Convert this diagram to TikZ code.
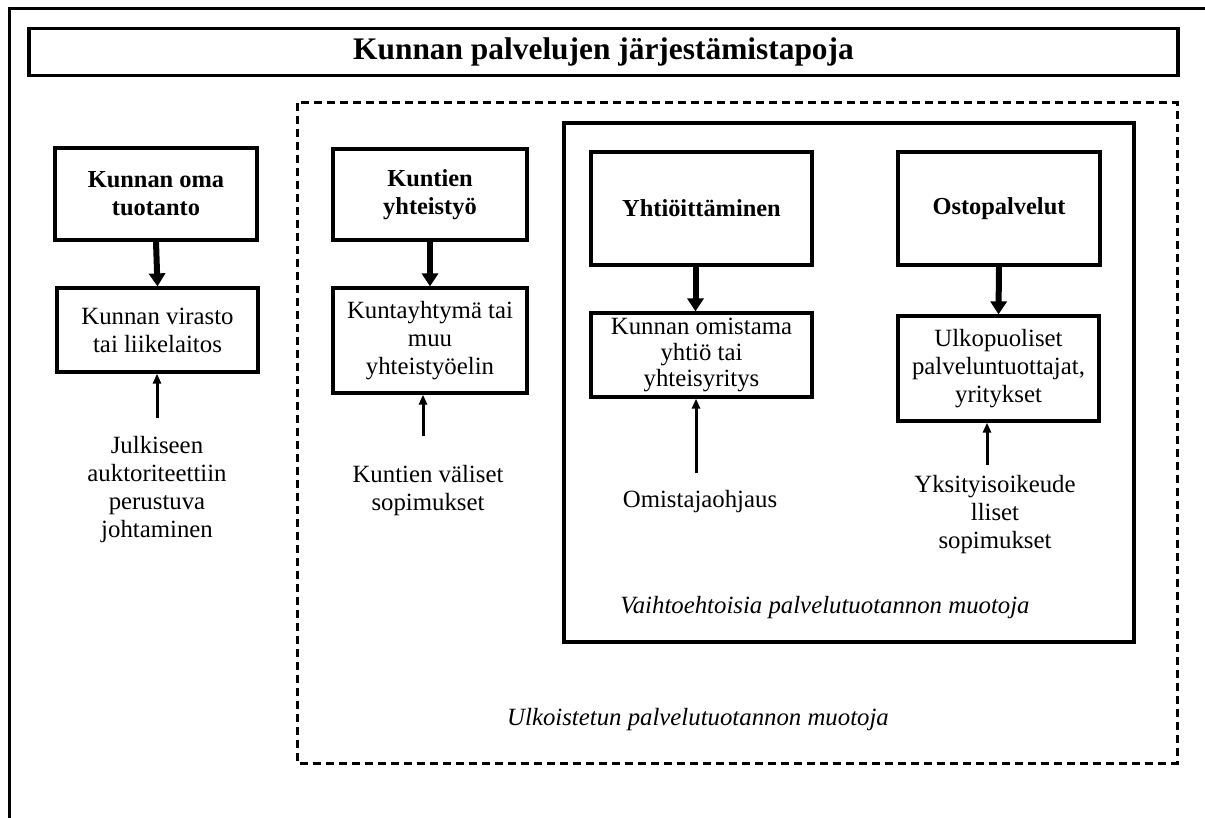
\documentclass[tikz,border=0pt]{standalone}
\usepackage{fontspec}
\setmainfont{Liberation Serif}
\usetikzlibrary{arrows.meta}

\begin{document}
\begin{tikzpicture}[x=0.5pt, y=-0.5pt,
    mainbox/.style={draw, line width=1.6pt, align=center, inner sep=0pt, font=\bfseries\fontsize{12.2}{14}\selectfont},
    subbox/.style={draw, line width=1.6pt, align=center, inner sep=0pt, font=\fontsize{12.4}{14}\selectfont},
    sidenote/.style={align=center, inner sep=0pt, font=\fontsize{12.4}{14}\selectfont},
    formtext/.style={inner sep=0pt, font=\itshape\fontsize{12.4}{14}\selectfont},
    bigarrow/.style={line width=3pt, -{Triangle[width=8pt, length=6.5pt]}},
    smallarrow/.style={line width=1.5pt, -{Triangle[width=4pt, length=5pt]}}]
            \useasboundingbox (0,0) rectangle (1205,818);

            % Frames
            \draw[line width=1.5pt] (9,818) -- (9,9) -- (1205,9);
            \draw[line width=1.5pt, dash pattern=on 4pt off 2.5pt] (297,103) rectangle (1177,763);
            \draw[line width=1.6pt] (564,123) rectangle (1134,642);

            % Nodes
            \node[mainbox, minimum width=574.5pt, minimum height=23.5pt, font=\bfseries\fontsize{15.7}{18}\selectfont] (title) at (603.5,52) {Kunnan palvelujen järjestämistapoja};

            \node[mainbox, minimum width=101pt, minimum height=46pt] (A) at (156,194) {Kunnan oma\\tuotanto};
            \node[subbox, minimum width=100.5pt, minimum height=42pt] (A2) at (157.5,330) {Kunnan virasto\\tai liikelaitos};
            \node[sidenote] (A3) at (157,490) {Julkiseen\\auktoriteettiin\\perustuva\\johtaminen};

            \node[mainbox, minimum width=97pt, minimum height=45.5pt] (B) at (430,194.5) {Kuntien\\yhteistyö};
            \node[subbox, minimum width=97pt, minimum height=52.5pt] (B2) at (430,340.5) {Kuntayhtymä tai\\muu\\yhteistyöelin};
            \node[sidenote] (B3) at (428,491) {Kuntien väliset\\sopimukset};

            \node[mainbox, minimum width=110.5pt, minimum height=56.5pt] (C) at (701.5,208.5) {Yhtiöittäminen};
            \node[subbox, minimum width=110.5pt, minimum height=42pt, font=\fontsize{12.4}{13}\selectfont] (C2) at (701.5,355) {Kunnan omistama\\yhtiö tai\\yhteisyritys};
            \node[sidenote] (C3) at (700,502) {Omistajaohjaus};

            \node[mainbox, minimum width=101pt, minimum height=56.5pt] (D) at (999,208.5) {Ostopalvelut};
            \node[subbox, minimum width=100.5pt, minimum height=52.5pt] (D2) at (998.5,368.5) {Ulkopuoliset\\palveluntuottajat,\\yritykset};
            \node[sidenote] (D3) at (995,515) {Yksityisoikeude\\lliset\\sopimukset};

            \node[formtext] (inner) at (825,608) {Vaihtoehtoisia palvelutuotannon muotoja};
            \node[formtext] (outer) at (698,720) {Ulkoistetun palvelutuotannon muotoja};

            \coordinate (a) at (157,418);
            \coordinate (b) at (423,436);
            \coordinate (c) at (696,473);
            \coordinate (d) at (987,465);

            % Edges
            \draw[bigarrow] (A.south) -- (A2.north);
            \draw[bigarrow] (B.south) -- (B2.north);
            \draw[bigarrow] ([xshift=-3pt]C.south) -- ([xshift=-3pt]C2.north);
            \draw[bigarrow] (D.south) -- (D2.north);

            \draw[smallarrow] (a) -- (a |- A2.south);
            \draw[smallarrow] (b) -- (b |- B2.south);
            \draw[smallarrow] (c) -- (c |- C2.south);
            \draw[smallarrow] (d) -- (d |- D2.south);
        \end{tikzpicture}
\end{document}
